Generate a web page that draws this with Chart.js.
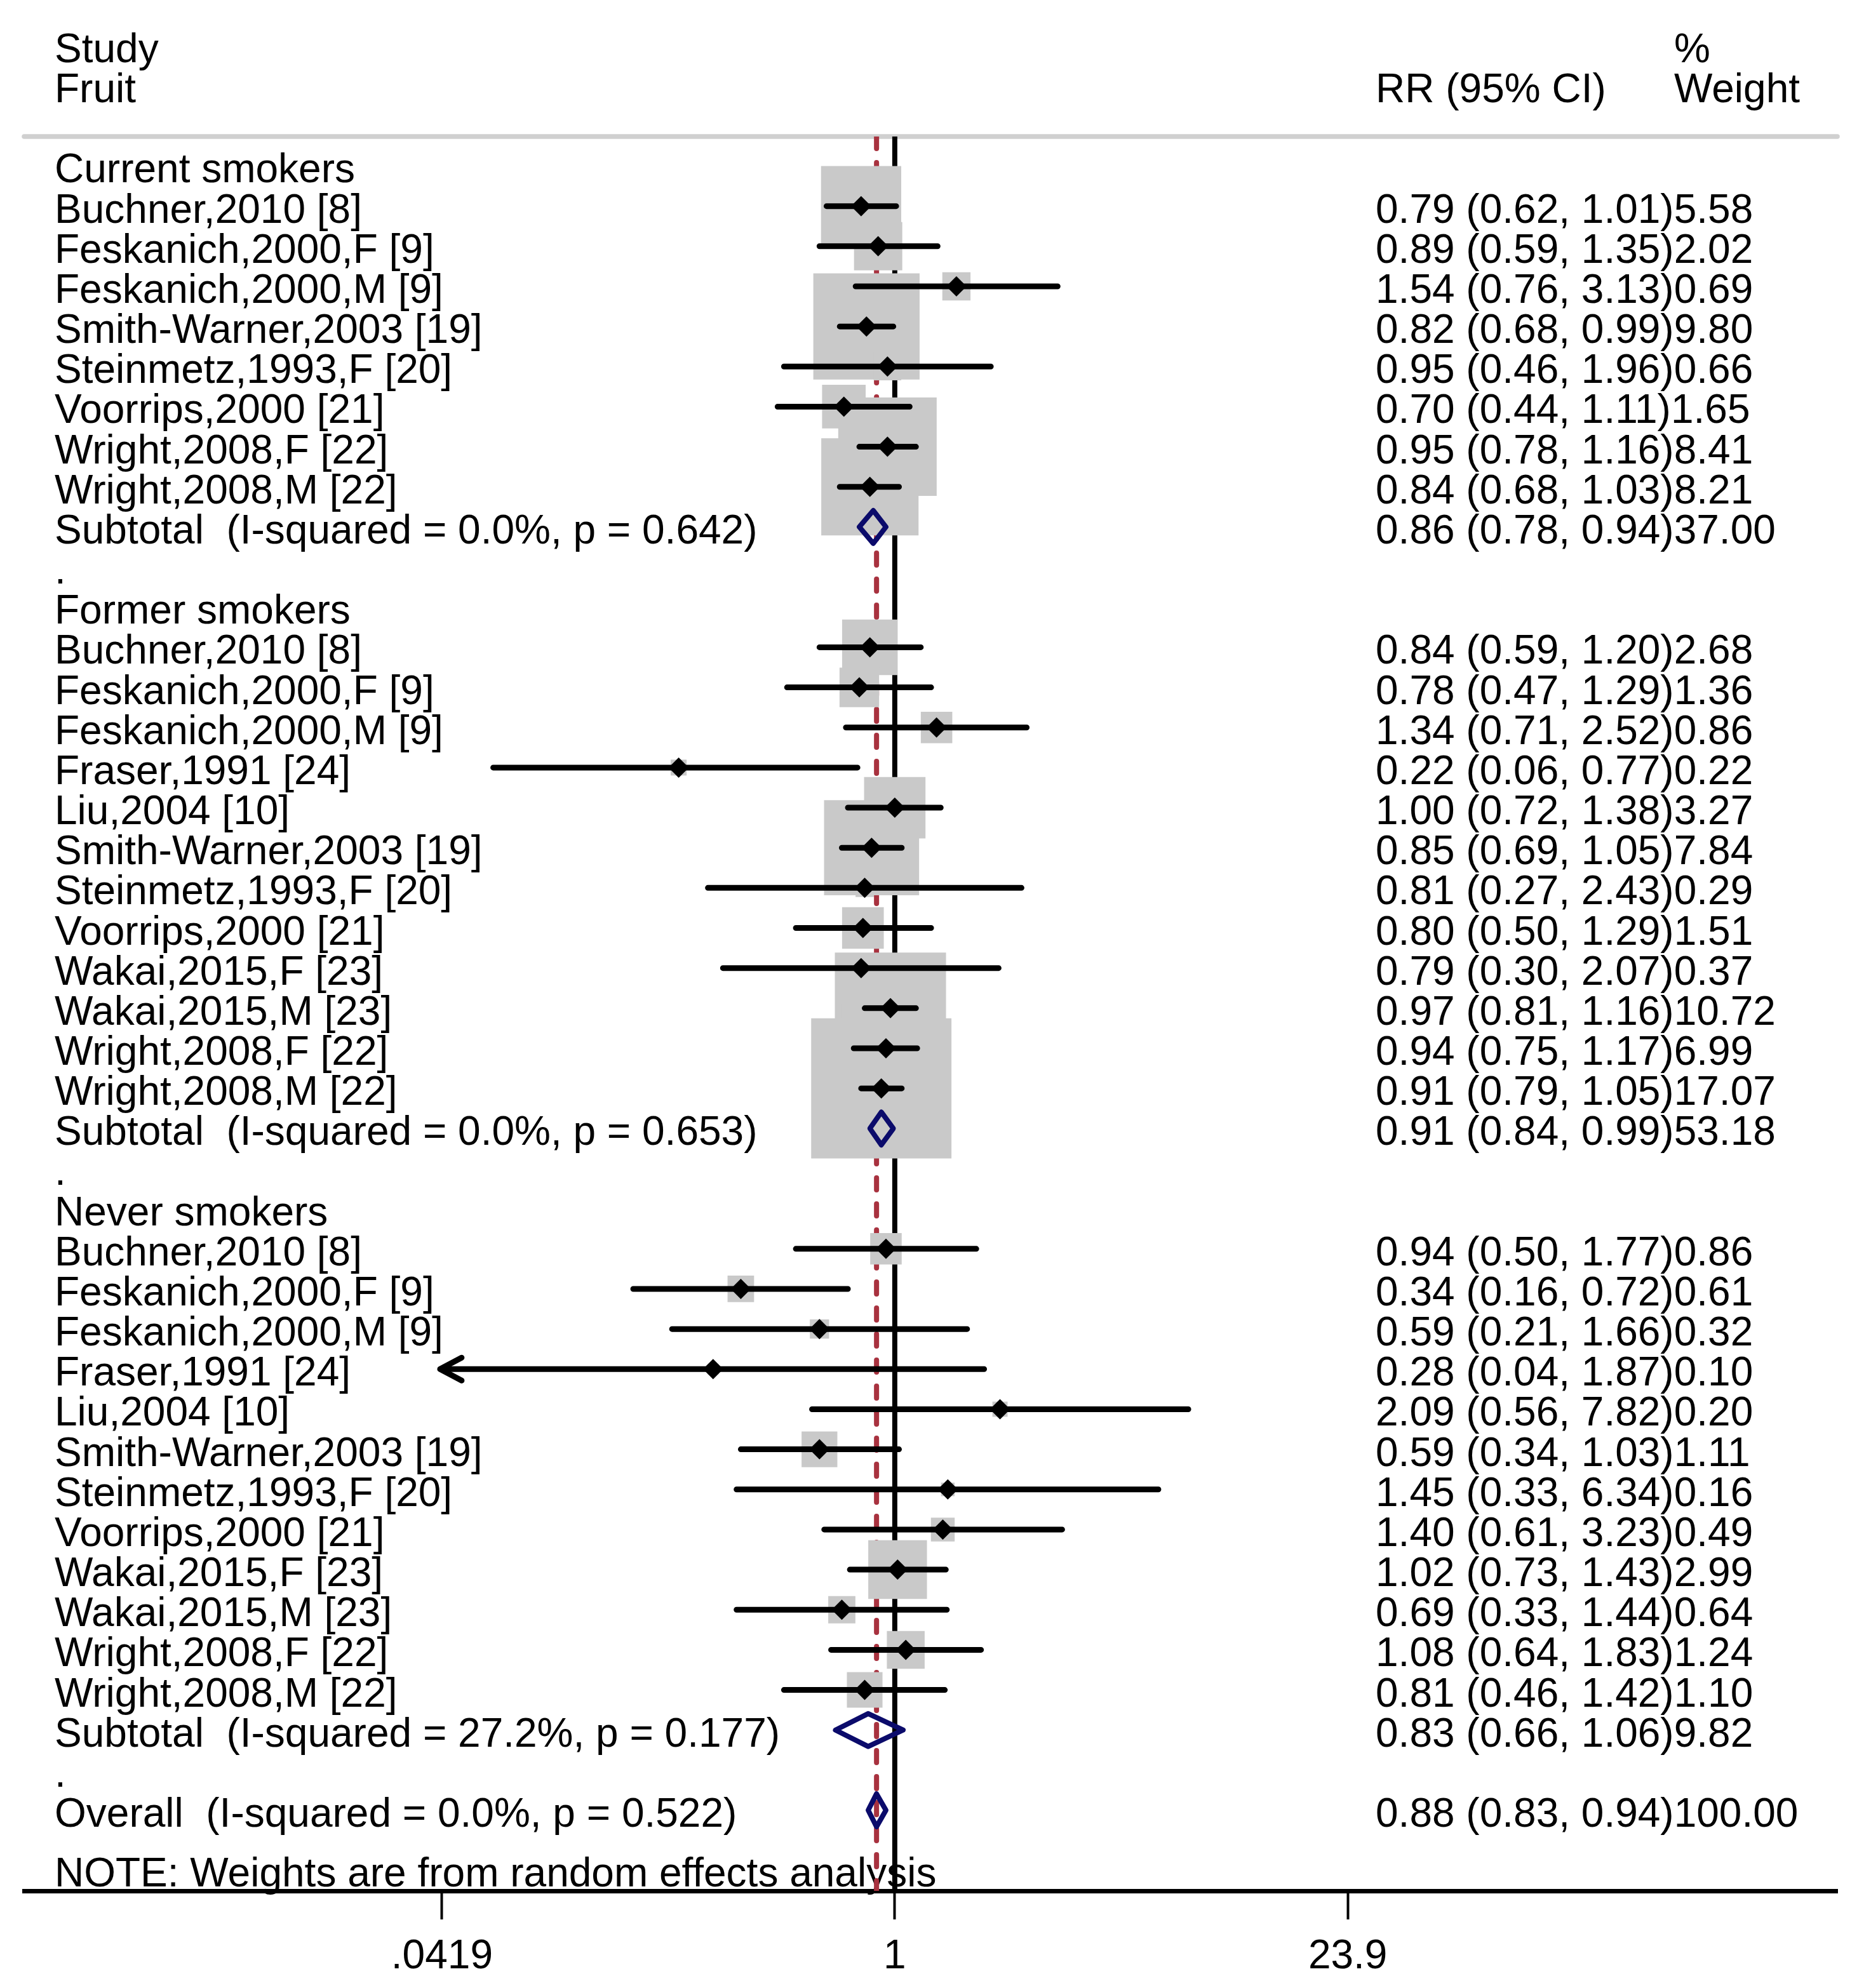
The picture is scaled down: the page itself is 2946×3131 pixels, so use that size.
<!DOCTYPE html>
<html>
<head>
<meta charset="utf-8">
<script src="https://cdn.jsdelivr.net/npm/chart.js@4.4.1/dist/chart.umd.min.js"></script>
<style>
  html, body { margin: 0; padding: 0; background: #fff; }
  #wrap { width: 2946px; height: 3131px; }
</style>
</head>
<body>
<div id="wrap"><canvas id="forest" width="2946" height="3131"></canvas></div>
<script>
// ── Données ──────────────────────────────────────────────────────────
const GROUP_LABELS = ["Current smokers", "Former smokers", "Never smokers"];

const CURRENT_STUDIES = ["Buchner,2010 [8]", "Feskanich,2000,F [9]", "Feskanich,2000,M [9]", "Smith-Warner,2003 [19]",
  "Steinmetz,1993,F [20]", "Voorrips,2000 [21]", "Wright,2008,F [22]", "Wright,2008,M [22]"];
const CURRENT_RR = [0.79, 0.89, 1.54, 0.82, 0.95, 0.70, 0.95, 0.84];
const CURRENT_LO = [0.62, 0.59, 0.76, 0.68, 0.46, 0.44, 0.78, 0.68];
const CURRENT_HI = [1.01, 1.35, 3.13, 0.99, 1.96, 1.11, 1.16, 1.03];
const CURRENT_W = [5.58, 2.02, 0.69, 9.80, 0.66, 1.65, 8.41, 8.21];

const FORMER_STUDIES = ["Buchner,2010 [8]", "Feskanich,2000,F [9]", "Feskanich,2000,M [9]", "Fraser,1991 [24]",
  "Liu,2004 [10]", "Smith-Warner,2003 [19]", "Steinmetz,1993,F [20]", "Voorrips,2000 [21]",
  "Wakai,2015,F [23]", "Wakai,2015,M [23]", "Wright,2008,F [22]", "Wright,2008,M [22]"];
const FORMER_RR = [0.84, 0.78, 1.34, 0.22, 1.00, 0.85, 0.81, 0.80, 0.79, 0.97, 0.94, 0.91];
const FORMER_LO = [0.59, 0.47, 0.71, 0.06, 0.72, 0.69, 0.27, 0.50, 0.30, 0.81, 0.75, 0.79];
const FORMER_HI = [1.20, 1.29, 2.52, 0.77, 1.38, 1.05, 2.43, 1.29, 2.07, 1.16, 1.17, 1.05];
const FORMER_W = [2.68, 1.36, 0.86, 0.22, 3.27, 7.84, 0.29, 1.51, 0.37, 10.72, 6.99, 17.07];

const NEVER_STUDIES = ["Buchner,2010 [8]", "Feskanich,2000,F [9]", "Feskanich,2000,M [9]", "Fraser,1991 [24]",
  "Liu,2004 [10]", "Smith-Warner,2003 [19]", "Steinmetz,1993,F [20]", "Voorrips,2000 [21]",
  "Wakai,2015,F [23]", "Wakai,2015,M [23]", "Wright,2008,F [22]", "Wright,2008,M [22]"];
const NEVER_RR = [0.94, 0.34, 0.59, 0.28, 2.09, 0.59, 1.45, 1.40, 1.02, 0.69, 1.08, 0.81];
const NEVER_LO = [0.50, 0.16, 0.21, 0.04, 0.56, 0.34, 0.33, 0.61, 0.73, 0.33, 0.64, 0.46];
const NEVER_HI = [1.77, 0.72, 1.66, 1.87, 7.82, 1.03, 6.34, 3.23, 1.43, 1.44, 1.83, 1.42];
const NEVER_W = [0.86, 0.61, 0.32, 0.10, 0.20, 1.11, 0.16, 0.49, 2.99, 0.64, 1.24, 1.10];

const SUBTOTAL_I2 = ["0.0", "0.0", "27.2"];
const SUBTOTAL_P = ["0.642", "0.653", "0.177"];
const SUBTOTAL_RR = [0.86, 0.91, 0.83];
const SUBTOTAL_LO = [0.78, 0.84, 0.66];
const SUBTOTAL_HI = [0.94, 0.99, 1.06];
const SUBTOTAL_W = [37.00, 53.18, 9.82];

const OVERALL_I2 = "0.0";
const OVERALL_P = "0.522";
const OVERALL_RR = 0.88;
const OVERALL_LO = 0.83;
const OVERALL_HI = 0.94;
const OVERALL_W = 100.00;

const X_TICKS = [0.0419, 1, 23.9];
const X_TICK_LABELS = [".0419", "1", "23.9"];

const NOTE_TEXT = "NOTE: Weights are from random effects analysis";

// ── Mise en page ─────────────────────────────────────────────────────
const FONT_FAMILY = "'Liberation Sans', Arial, Helvetica, sans-serif";
const FONT = `64px ${FONT_FAMILY}`;
const Y_MIN = -0.736;   // ligne grise d'en-tête
const Y_MAX = 43.01;    // axe des x
const X_MIN = 0.002243;
const X_MAX = 737.9;
const LEFT_TEXT_X = 86;
const STATS_TEXT_X = 2166;
const WEIGHT_TEXT_X = 2636;
const TEXT_DROP = 26;   // ligne de base sous le centre de la rangée
const BOX_R_PER_SQRT_W = 37.8;
const DIAMOND_HALF_H = 0.41;

const GROUPS = [
  { studies: CURRENT_STUDIES, rr: CURRENT_RR, lo: CURRENT_LO, hi: CURRENT_HI, w: CURRENT_W },
  { studies: FORMER_STUDIES, rr: FORMER_RR, lo: FORMER_LO, hi: FORMER_HI, w: FORMER_W },
  { studies: NEVER_STUDIES, rr: NEVER_RR, lo: NEVER_LO, hi: NEVER_HI, w: NEVER_W },
];

const fmt = (v) => v.toFixed(2);
const statText = (rr, lo, hi, w) => `${fmt(rr)} (${fmt(lo)}, ${fmt(hi)})${fmt(w)}`;

// Lignes : texte gauche, texte droit ; études et diamants avec leur rang.
const textRows = [];
const studyRows = [];
const diamondRows = [];
let row = 0;
GROUPS.forEach((g, gi) => {
  textRows.push({ row, left: GROUP_LABELS[gi] });
  row++;
  g.studies.forEach((name, i) => {
    textRows.push({ row, left: name, right: statText(g.rr[i], g.lo[i], g.hi[i], g.w[i]) });
    studyRows.push({ row, rr: g.rr[i], lo: g.lo[i], hi: g.hi[i], w: g.w[i] });
    row++;
  });
  textRows.push({
    row,
    left: `Subtotal  (I-squared = ${SUBTOTAL_I2[gi]}%, p = ${SUBTOTAL_P[gi]})`,
    right: statText(SUBTOTAL_RR[gi], SUBTOTAL_LO[gi], SUBTOTAL_HI[gi], SUBTOTAL_W[gi]),
  });
  diamondRows.push({ row, rr: SUBTOTAL_RR[gi], lo: SUBTOTAL_LO[gi], hi: SUBTOTAL_HI[gi] });
  row++;
  textRows.push({ row, left: "." });
  row++;
});
textRows.push({
  row,
  left: `Overall  (I-squared = ${OVERALL_I2}%, p = ${OVERALL_P})`,
  right: statText(OVERALL_RR, OVERALL_LO, OVERALL_HI, OVERALL_W),
});
diamondRows.push({ row, rr: OVERALL_RR, lo: OVERALL_LO, hi: OVERALL_HI });
textRows.push({ row: row + 1.49, left: NOTE_TEXT });

const headerRows = [
  { row: -3, left: "Study", weight: "%" },
  { row: -2, left: "Fruit", right: "RR (95% CI)", weight: "Weight" },
];

// Les IC sont tronqués à la première graduation (flèche dessinée ensuite).
const ciData = [];
studyRows.forEach((s) => {
  ciData.push({ x: Math.max(s.lo, X_TICKS[0]), y: s.row }, { x: s.hi, y: s.row }, { x: null, y: s.row });
});
const diamondData = [];
diamondRows.forEach((d) => {
  diamondData.push(
    { x: d.lo, y: d.row }, { x: d.rr, y: d.row - DIAMOND_HALF_H }, { x: d.hi, y: d.row },
    { x: d.rr, y: d.row + DIAMOND_HALF_H }, { x: d.lo, y: d.row }, { x: d.rr, y: d.row - DIAMOND_HALF_H },
    { x: null, y: d.row }
  );
});

// ── Plugins de dessin (textes, ligne d'en-tête, flèches) ─────────────
const textPlugin = {
  id: "forestText",
  beforeDatasetsDraw(chart) {
    const { ctx, chartArea, scales: { y } } = chart;
    ctx.save();
    ctx.strokeStyle = "#d0d0d0";
    ctx.lineWidth = 7.5;
    ctx.lineCap = "round";
    ctx.beginPath();
    ctx.moveTo(chartArea.left, chartArea.top);
    ctx.lineTo(chartArea.right, chartArea.top);
    ctx.stroke();

    ctx.font = FONT;
    ctx.fillStyle = "#000";
    ctx.textBaseline = "alphabetic";
    ctx.textAlign = "left";
    [...headerRows, ...textRows].forEach((r) => {
      const py = y.getPixelForValue(r.row) + TEXT_DROP;
      if (r.left) ctx.fillText(r.left, LEFT_TEXT_X, py);
      if (r.right) ctx.fillText(r.right, STATS_TEXT_X, py);
      if (r.weight) ctx.fillText(r.weight, WEIGHT_TEXT_X, py);
    });
    ctx.restore();
  },
  afterDatasetsDraw(chart) {
    const { ctx, scales: { x, y } } = chart;
    ctx.save();
    ctx.strokeStyle = "#000";
    ctx.lineWidth = 9;
    ctx.lineCap = "round";
    ctx.lineJoin = "round";
    studyRows.filter((s) => s.lo < X_TICKS[0]).forEach((s) => {
      const px = x.getPixelForValue(X_TICKS[0]) - 3;
      const py = y.getPixelForValue(s.row);
      ctx.beginPath();
      ctx.moveTo(px + 34, py - 18);
      ctx.lineTo(px, py);
      ctx.lineTo(px + 34, py + 18);
      ctx.stroke();
    });
    ctx.restore();
  },
};

// ── Graphique ────────────────────────────────────────────────────────
new Chart(document.getElementById("forest"), {
  type: "scatter",
  data: {
    datasets: [
      {
        label: "subtotals",
        data: diamondData,
        showLine: true,
        spanGaps: false,
        borderColor: "#0b0b6b",
        borderWidth: 8,
        borderJoinStyle: "round",
        pointRadius: 0,
        tension: 0,
        fill: false,
        order: 0,
      },
      {
        label: "estimates",
        data: studyRows.map((s) => ({ x: s.rr, y: s.row })),
        pointStyle: "rectRot",
        pointRadius: 16,
        backgroundColor: "#000",
        borderWidth: 0,
        order: 1,
      },
      {
        label: "ci",
        data: ciData,
        showLine: true,
        spanGaps: false,
        borderColor: "#000",
        borderWidth: 9,
        borderCapStyle: "round",
        pointRadius: 0,
        order: 2,
      },
      {
        label: "weights",
        data: studyRows.map((s) => ({ x: s.rr, y: s.row })),
        pointStyle: "rect",
        pointRadius: studyRows.map((s) => BOX_R_PER_SQRT_W * Math.sqrt(s.w)),
        backgroundColor: "#c9c9c9",
        borderWidth: 0,
        order: 3,
      },
      {
        label: "overall",
        data: [{ x: OVERALL_RR, y: Y_MIN }, { x: OVERALL_RR, y: Y_MAX }],
        showLine: true,
        borderColor: "#a8323f",
        borderWidth: 8,
        borderDash: [19, 22],
        borderCapStyle: "round",
        pointRadius: 0,
        order: 4,
      },
      {
        label: "null",
        data: [{ x: 1, y: Y_MIN }, { x: 1, y: Y_MAX }],
        showLine: true,
        borderColor: "#000",
        borderWidth: 8,
        pointRadius: 0,
        order: 5,
      },
    ],
  },
  options: {
    responsive: false,
    devicePixelRatio: 1,
    animation: false,
    events: [],
    layout: { autoPadding: false, padding: { left: 38, right: 53, top: 215, bottom: 13 } },
    plugins: { legend: { display: false }, tooltip: { enabled: false } },
    scales: {
      x: {
        type: "logarithmic",
        position: "bottom",
        min: X_MIN,
        max: X_MAX,
        bounds: "data",
        afterBuildTicks: (scale) => { scale.ticks = X_TICKS.map((v) => ({ value: v })); },
        afterFit: (scale) => {
          scale.height = 140;
          scale.paddingLeft = 0;
          scale.paddingRight = 0;
        },
        ticks: {
          autoSkip: false,
          maxRotation: 0,
          padding: 21,
          color: "#000",
          font: { family: FONT_FAMILY, size: 64 },
          callback: (value, index) => X_TICK_LABELS[index],
        },
        grid: { drawOnChartArea: false, drawTicks: true, tickLength: 45, tickWidth: 4, tickColor: "#000" },
        border: { display: true, color: "#000", width: 7 },
      },
      y: {
        type: "linear",
        reverse: true,
        min: Y_MIN,
        max: Y_MAX,
        bounds: "data",
        display: false,
      },
    },
  },
  plugins: [textPlugin],
});
</script>
</body>
</html>
